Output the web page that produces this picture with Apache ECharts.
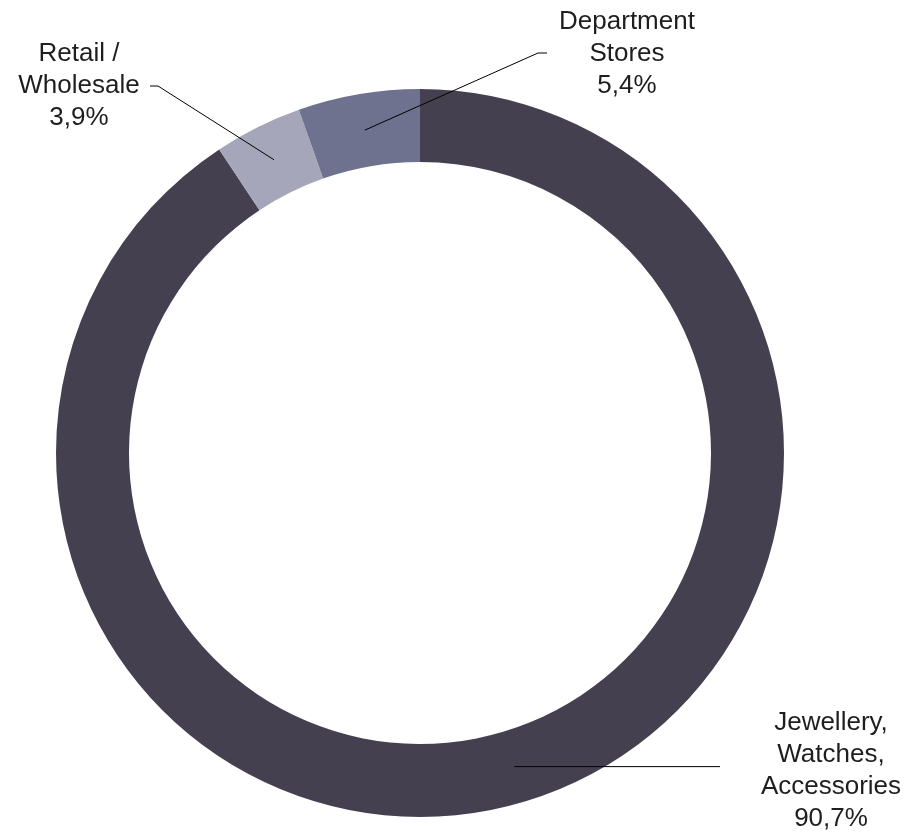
<!DOCTYPE html>
<html>
<head>
<meta charset="utf-8">
<style>
  html, body { margin: 0; padding: 0; background: #ffffff; }
  #chart { width: 910px; height: 834px; }
</style>
<script src="https://cdn.jsdelivr.net/npm/echarts@6/dist/echarts.min.js"></script>
</head>
<body>
<div id="chart"></div>
<script>
// Revenue split by channel
const categories = [
  'Jewellery,\nWatches,\nAccessories',
  'Retail /\nWholesale',
  'Department\nStores'
];
const shares = [90.7, 3.9, 5.4];
const sliceColors = ['#45404f', '#a6a6ba', '#6e728f'];

const CENTER = [420, 453];
const RADII = [291, 364];

// Where each label block sits and where its leader line bends / ends
const labelSpots = [
  { x: 831, y: 771, bend: p => [620, p[1]], end: p => [720, p[1]] },
  { x: 79, y: 86, bend: () => [158, 86], end: () => [150, 86] },
  { x: 627, y: 54, bend: () => [538, 53], end: () => [547, 53] }
];

const fmt = v => v.toFixed(1).replace('.', ',') + '%';

const chart = echarts.init(document.getElementById('chart'), null, { renderer: 'canvas' });

const ringBase = {
  type: 'pie',
  center: CENTER,
  radius: RADII,
  startAngle: 90,
  clockwise: true,
  avoidLabelOverlap: false,
  silent: true
};

chart.setOption({
  animation: false,
  backgroundColor: '#ffffff',
  series: [
    // the coloured ring
    Object.assign({}, ringBase, {
      z: 2,
      itemStyle: { borderWidth: 0 },
      label: { show: false },
      labelLine: { show: false },
      data: categories.map((name, i) => ({
        name: name,
        value: shares[i],
        itemStyle: { color: sliceColors[i] }
      }))
    }),
    // same ring, invisible, carrying labels and leader lines on top
    Object.assign({}, ringBase, {
      z: 5,
      itemStyle: { color: 'rgba(0,0,0,0)', borderWidth: 0 },
      label: {
        show: true,
        position: 'outside',
        formatter: p => p.name + '\n' + fmt(p.value),
        fontFamily: '"Liberation Sans", Arial, sans-serif',
        fontSize: 26,
        lineHeight: 32,
        color: '#1e1e1e',
        align: 'center'
      },
      labelLine: {
        show: true,
        showAbove: true,
        length: 20,
        length2: 20,
        smooth: false,
        lineStyle: { color: '#000000', width: 1 }
      },
      labelLayout: function (params) {
        const spot = labelSpots[params.dataIndex];
        const pts = params.labelLinePoints;
        // pull the line start from the outer edge to the middle of the ring
        const k = (RADII[0] + RADII[1]) / 2 / RADII[1];
        const start = [
          CENTER[0] + (pts[0][0] - CENTER[0]) * k,
          CENTER[1] + (pts[0][1] - CENTER[1]) * k
        ];
        return {
          x: spot.x,
          y: spot.y,
          align: 'center',
          verticalAlign: 'middle',
          labelLinePoints: [start, spot.bend(start), spot.end(start)]
        };
      },
      data: categories.map((name, i) => ({ name: name, value: shares[i] }))
    })
  ]
});
</script>
</body>
</html>
